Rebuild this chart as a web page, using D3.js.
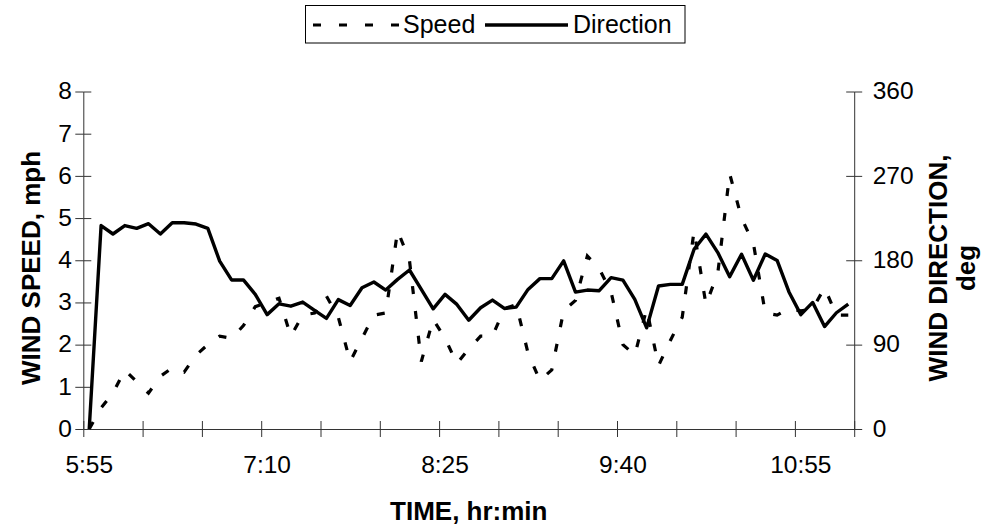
<!DOCTYPE html>
<html>
<head>
<meta charset="utf-8">
<script src="https://cdn.jsdelivr.net/npm/d3@7"></script>
<style>
  html, body { margin: 0; padding: 0; background: #fff; }
  svg { display: block; }
  text { font-family: "Liberation Sans", Arial, sans-serif; fill: #000; }
</style>
</head>
<body>
<svg id="chart" width="988" height="531"></svg>
<script>
// ---- data ----
const times = ["5:55","6:00","6:05","6:10","6:15","6:20","6:25","6:30","6:35","6:40","6:45","6:50","6:55","7:00","7:05",
  "7:10","7:15","7:20","7:25","7:30","7:35","7:40","7:45","7:50","7:55","8:00","8:05","8:10","8:15","8:20",
  "8:25","8:30","8:35","8:40","8:45","8:50","8:55","9:00","9:05","9:10","9:15","9:20","9:25","9:30","9:35",
  "9:40","9:45","9:50","9:55","10:00","10:05","10:10","10:15","10:20","10:25","10:30","10:35","10:40","10:45","10:50",
  "10:55","11:00","11:05","11:10","11:15"];
const xTickLabels = ["5:55","7:10","8:25","9:40","10:55"];
const speed = [0,0.5,0.85,1.4,1.12,0.85,1.25,1.45,1.35,1.75,2.0,2.2,2.15,2.45,2.9,
  3.0,3.1,2.2,2.7,2.75,3.15,2.65,1.6,2.15,2.7,2.75,4.7,4.0,1.6,2.6,
  2.15,1.55,1.9,2.2,2.2,2.85,2.95,1.8,1.15,1.4,2.8,3.05,4.1,3.8,3.25,
  2.0,1.75,2.85,1.5,2.1,2.65,4.7,2.95,3.7,6.05,5.0,4.4,2.75,2.7,2.85,
  2.8,2.85,3.35,2.7,2.7];
const direction = [0,217,208,217,214,219,208,220,220,218.6,214,179,159,159,143.6,
  122,133.5,131,135.4,126.5,118,138,131.8,150.7,156.8,148.2,159.6,169.6,149,128.2,
  143.6,132.9,116,129.3,137.5,128.6,130,148.9,160.4,160.4,179.3,146,148.2,147.5,161.4,
  158.8,138.2,107.9,152.5,154.3,154.3,191.8,207.9,188.2,162.5,186.4,158.7,186.7,179.8,146.2,
  122,135,109.3,124,133.2];
const speedTicks = [0,1,2,3,4,5,6,7,8];
const dirTicks = [0,90,180,270,360];
const seriesNames = ["Speed","Direction"];

// ---- layout ----
const L = 83.3, R = 854.2, T = 91.5, B = 429;
const svg = d3.select("#chart");

const x = d3.scaleBand().domain(times).range([L, R]).paddingInner(0).paddingOuter(0);
const xc = t => x(t) + x.bandwidth() / 2;
const xIdx = d3.scaleLinear().domain([0, times.length]).range([L, R]);
const yL = d3.scaleLinear().domain([0, 8]).range([B, T]);
const yR = d3.scaleLinear().domain([0, 360]).range([B, T]);

const axisColor = "#333";
function styleAxis(g) {
  g.selectAll("path.domain").attr("stroke", axisColor).attr("stroke-width", 1);
  g.selectAll(".tick line").attr("stroke", axisColor).attr("stroke-width", 1);
  g.selectAll("text").attr("font-size", "24.5px").attr("font-family", "'Liberation Sans', Arial, sans-serif").attr("fill", "#000");
}

// left axis (labels + outward ticks)
const gL = svg.append("g").attr("transform", `translate(${L},0)`)
  .call(d3.axisLeft(yL).tickValues(speedTicks).tickSize(8).tickSizeOuter(0).tickPadding(3.5));
styleAxis(gL);
gL.selectAll("text").attr("dy", "0.30em");
// left inward ticks
const gLi = svg.append("g").attr("transform", `translate(${L},0)`)
  .call(d3.axisRight(yL).tickValues(speedTicks).tickSize(8).tickFormat(""));
gLi.select("path.domain").remove();
styleAxis(gLi);

// right axis
const gR = svg.append("g").attr("transform", `translate(${R},0)`)
  .call(d3.axisRight(yR).tickValues(dirTicks).tickSize(8).tickSizeOuter(0).tickPadding(10.5));
styleAxis(gR);
gR.selectAll("text").attr("dy", "0.30em");
const gRi = svg.append("g").attr("transform", `translate(${R},0)`)
  .call(d3.axisLeft(yR).tickValues(dirTicks).tickSize(8).tickFormat(""));
gRi.select("path.domain").remove();
styleAxis(gRi);

// x axis ticks at category boundaries (every 5 categories), crossing
const boundaryTicks = d3.range(0, times.length + 1, 5);
const gX = svg.append("g").attr("transform", `translate(0,${B})`)
  .call(d3.axisBottom(xIdx).tickValues(boundaryTicks).tickSize(8).tickSizeOuter(0).tickFormat(""));
styleAxis(gX);
const gXi = svg.append("g").attr("transform", `translate(0,${B})`)
  .call(d3.axisTop(xIdx).tickValues(boundaryTicks).tickSize(8).tickFormat(""));
gXi.select("path.domain").remove();
styleAxis(gXi);
// x labels at category centers
const gXl = svg.append("g").attr("transform", `translate(0,${B})`)
  .call(d3.axisBottom(x).tickValues(xTickLabels).tickSize(0).tickPadding(27));
gXl.select("path.domain").remove();
styleAxis(gXl);

// ---- lines ----
const lineSpeed = d3.line().x((d, i) => xc(times[i])).y(d => yL(d));
const lineDir = d3.line().x((d, i) => xc(times[i])).y(d => yR(d));

svg.append("path").datum(speed)
  .attr("d", lineSpeed).attr("fill", "none").attr("stroke", "#000")
  .attr("stroke-width", 3.2).attr("stroke-dasharray", "8,17").attr("stroke-linecap", "butt");
svg.append("path").datum(direction)
  .attr("d", lineDir).attr("fill", "none").attr("stroke", "#000")
  .attr("stroke-width", 3.4).attr("stroke-linejoin", "round");

// ---- axis titles ----
svg.append("text").attr("x", (L + R) / 2).attr("y", 520).attr("text-anchor", "middle")
  .attr("font-size", "26px").attr("font-weight", "bold").text("TIME, hr:min");
svg.append("text").attr("transform", "translate(40,268) rotate(-90)").attr("text-anchor", "middle")
  .attr("font-size", "26px").attr("font-weight", "bold").text("WIND SPEED, mph");
const rt = svg.append("text").attr("transform", "translate(946.5,268) rotate(-90)").attr("text-anchor", "middle")
  .attr("font-size", "26px").attr("font-weight", "bold");
rt.append("tspan").attr("x", 0).attr("dy", 0).text("WIND DIRECTION,");
rt.append("tspan").attr("x", 0).attr("dy", 28.5).text("deg");

// ---- legend ----
const lg = svg.append("g");
lg.append("rect").attr("x", 305.5).attr("y", 5.5).attr("width", 379.5).attr("height", 37.5)
  .attr("fill", "#fff").attr("stroke", "#000").attr("stroke-width", 1);
lg.append("line").attr("x1", 313).attr("x2", 399).attr("y1", 25).attr("y2", 25)
  .attr("stroke", "#000").attr("stroke-width", 3.2).attr("stroke-dasharray", "8,18");
lg.append("text").attr("x", 403).attr("y", 33).attr("font-size", "25px").text(seriesNames[0]);
lg.append("line").attr("x1", 485).attr("x2", 568).attr("y1", 25).attr("y2", 25)
  .attr("stroke", "#000").attr("stroke-width", 3.4);
lg.append("text").attr("x", 573).attr("y", 33).attr("font-size", "25px").text(seriesNames[1]);
</script>
</body>
</html>
